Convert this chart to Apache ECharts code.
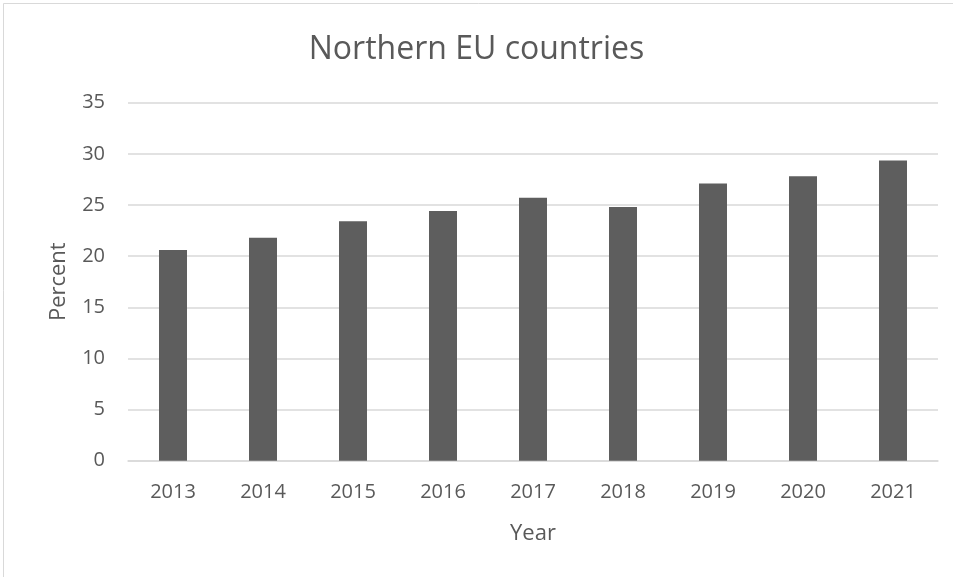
<!DOCTYPE html>
<html>
<head>
<meta charset="utf-8">
<script src="https://cdn.jsdelivr.net/npm/echarts@6/dist/echarts.min.js"></script>
<style>
html,body{margin:0;padding:0;background:#fff;}
#chart{width:953px;height:577px;}
</style>
</head>
<body>
<div id="chart"></div>
<script>
const titleText = "Northern EU countries";
const years = ["2013","2014","2015","2016","2017","2018","2019","2020","2021"];
const percentValues = [20.6, 21.8, 23.4, 24.4, 25.7, 24.8, 27.1, 27.8, 29.35];
const yAxisName = "Percent";
const xAxisName = "Year";

const chart = echarts.init(document.getElementById('chart'), null, {renderer:'canvas'});
const font = "'Open Sans', sans-serif";
chart.setOption({
  backgroundColor: '#ffffff',
  animation: false,
  graphic: [{
    type: 'rect',
    shape: {x: 3.5, y: 3.5, width: 1200, height: 1200},
    style: {fill: 'none', stroke: '#d9d9d9', lineWidth: 1},
    silent: true
  }],
  title: {
    text: titleText,
    left: 'center',
    top: 29,
    textStyle: {fontFamily: font, fontSize: 32, fontWeight: 'normal', color: '#595959'}
  },
  grid: {left: 128, right: 15, top: 102.7, bottom: 116.3, containLabel: false},
  xAxis: {
    type: 'category',
    data: years,
    name: xAxisName,
    nameLocation: 'middle',
    nameGap: 62,
    nameTextStyle: {fontFamily: font, fontSize: 22, color: '#595959'},
    axisLine: {show: true, lineStyle: {color: '#d9d9d9', width: 1.5}},
    axisTick: {show: false},
    axisLabel: {fontFamily: font, fontSize: 20, color: '#595959', margin: 22}
  },
  yAxis: {
    type: 'value',
    min: 0, max: 35, interval: 5,
    name: yAxisName,
    nameLocation: 'middle',
    nameGap: 58,
    nameTextStyle: {fontFamily: font, fontSize: 22, color: '#595959'},
    axisLine: {show: false},
    axisTick: {show: false},
    axisLabel: {fontFamily: font, fontSize: 20, color: '#595959', margin: 23},
    splitLine: {lineStyle: {color: '#d9d9d9', width: 1.5}}
  },
  series: [{
    type: 'bar',
    data: percentValues,
    barWidth: 28,
    itemStyle: {color: '#5e5e5e'},
    silent: true
  }]
});
</script>
</body>
</html>
